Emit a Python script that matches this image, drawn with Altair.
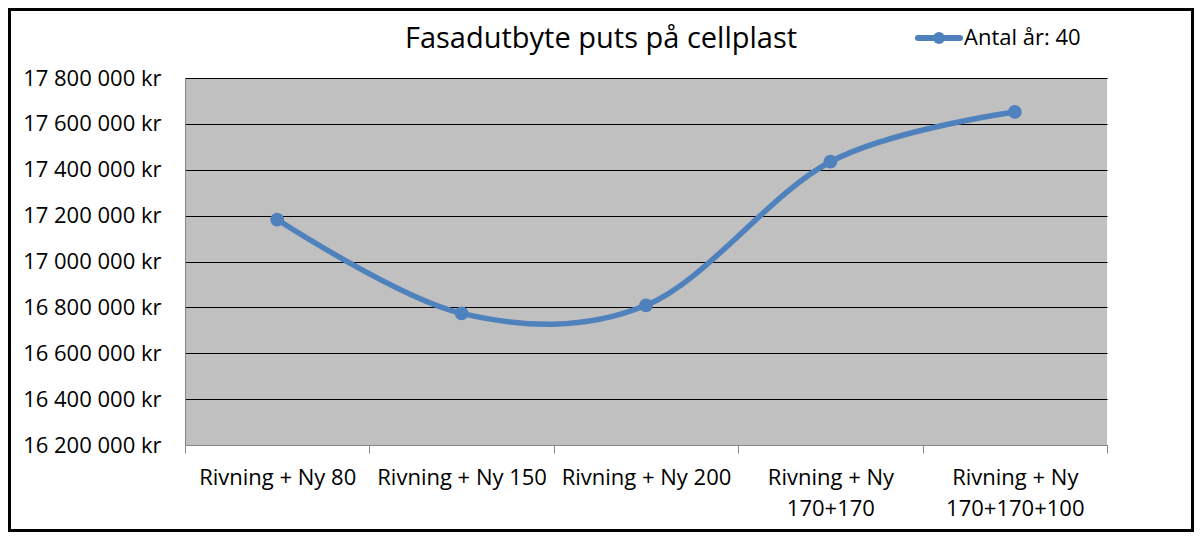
import altair as alt
import pandas as pd

categories = ["Rivning + Ny 80", "Rivning + Ny 150", "Rivning + Ny 200",
              "Rivning + Ny 170+170", "Rivning + Ny 170+170+100"]
values = [17183000, 16774000, 16809000, 17435000, 17652000]
y_ticks = [16200000, 16400000, 16600000, 16800000, 17000000,
           17200000, 17400000, 17600000, 17800000]
title_text = "Fasadutbyte puts på cellplast"
legend_text = "Antal år: 40"

df = pd.DataFrame({"cat": categories, "val": values})

W, H = 922, 367
PL, PT, PR, PB = 177, 70, 87, 87
FONT = "Open Sans"
BLUE = "#4F81BD"

x_enc = alt.X("cat:N", sort=categories, bandPosition=0.5,
              scale=alt.Scale(type="band", paddingInner=0, paddingOuter=0),
              axis=alt.Axis(title=None, labelAngle=0, tickBand="extent",
                            tickSize=8, tickColor="#868686", domainColor="#868686",
                            labelFont=FONT, labelFontSize=22, labelColor="black",
                            labelPadding=14, labelLineHeight=31,
                            labelBaseline="top",
                            labelExpr="length(datum.label) > 17 ? [substring(datum.label, 0, 12), substring(datum.label, 13)] : datum.label"))
y_enc = alt.Y("val:Q",
              scale=alt.Scale(domain=[16200000, 17800000], nice=False, zero=False),
              axis=alt.Axis(title=None, values=y_ticks, ticks=False,
                            grid=True, gridColor="black", gridWidth=1,
                            domainColor="#868686",
                            labelFont=FONT, labelFontSize=22, labelColor="black",
                            labelPadding=24,
                            labelExpr="replace(format(datum.value, ',.0f'), regexp(',', 'g'), ' ') + ' kr'"))

base = alt.Chart(df)
line = base.mark_line(interpolate="cardinal", color=BLUE, strokeWidth=5.5).encode(x=x_enc, y=y_enc)
pts = base.mark_point(filled=True, color=BLUE, size=190, opacity=1).encode(x=x_enc, y=y_enc)

deco = alt.Chart(pd.DataFrame({"t": [title_text], "l": [legend_text]}))
title = deco.mark_text(font=FONT, fontSize=29, color="black", align="center", baseline="middle").encode(
    x=alt.value(416), y=alt.value(-39), text="t:N")
leg_line = deco.mark_rule(color=BLUE, strokeWidth=6, strokeCap="round").encode(
    x=alt.value(733), x2=alt.value(775), y=alt.value(-40))
leg_pt = deco.mark_point(filled=True, color=BLUE, size=140, opacity=1).encode(
    x=alt.value(754), y=alt.value(-40))
leg_txt = deco.mark_text(font=FONT, fontSize=22, color="black", align="left", baseline="middle").encode(
    x=alt.value(779), y=alt.value(-40), text="l:N")
frame = deco.mark_rect(fill="transparent", stroke="black", strokeWidth=3).encode(
    x=alt.value(-PL + 1.5), x2=alt.value(W + PR - 1.5),
    y=alt.value(-PT + 1.5), y2=alt.value(H + PB - 1.5))

chart = alt.layer(line, pts, title, leg_line, leg_pt, leg_txt, frame).properties(
    width=W, height=H,
    autosize=alt.AutoSizeParams(type="none"),
    padding={"left": PL, "top": PT, "right": PR, "bottom": PB},
    background="white",
).configure_view(fill="#C0C0C0", strokeWidth=0)

chart.save("out.html", embed_options={"renderer": "svg", "actions": False})
